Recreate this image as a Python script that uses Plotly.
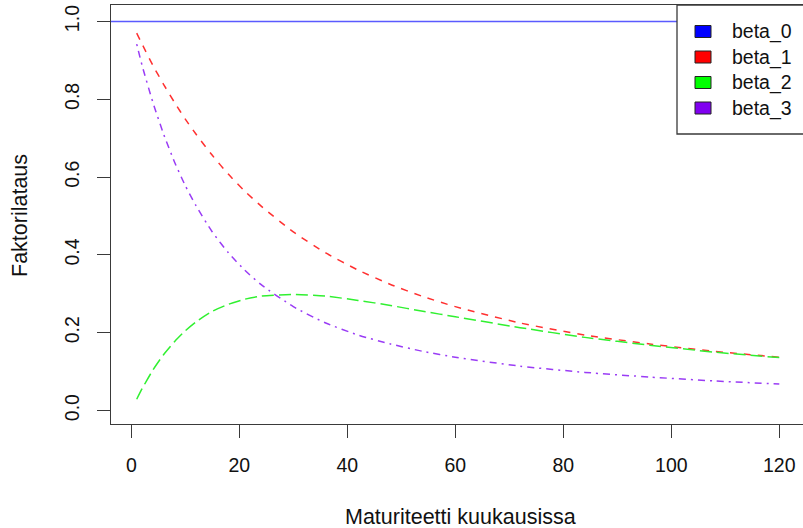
import plotly.graph_objects as go

# Maturities (months) and factor loadings of the Svensson yield-curve model
maturity = [1, 2, 4, 6, 8, 10, 12, 15, 18, 21, 24, 30, 36, 42, 48, 54, 60, 72, 84, 96, 108, 120]
beta_0_level = 1.0
beta_1 = [0.970, 0.942, 0.887, 0.838, 0.792, 0.749, 0.710, 0.656, 0.607, 0.564, 0.526,
          0.459, 0.405, 0.361, 0.324, 0.293, 0.267, 0.225, 0.194, 0.171, 0.152, 0.137]
beta_2 = [0.029, 0.056, 0.104, 0.144, 0.177, 0.205, 0.228, 0.255, 0.273, 0.286, 0.294,
          0.298, 0.294, 0.283, 0.270, 0.255, 0.241, 0.213, 0.188, 0.168, 0.150, 0.136]
beta_3 = [0.942, 0.887, 0.792, 0.710, 0.639, 0.578, 0.526, 0.459, 0.405, 0.361, 0.324,
          0.267, 0.225, 0.194, 0.171, 0.152, 0.137, 0.114, 0.098, 0.086, 0.076, 0.068]

legend_names = ["beta_0", "beta_1", "beta_2", "beta_3"]
colors = ["#0000FF", "#FF0000", "#00FF00", "#8000F0"]
line_colors = ["#5a5aff", "#ff3030", "#30f030", "#9a3cf5"]

x_ticks = [0, 20, 40, 60, 80, 100, 120]
y_ticks = [0.0, 0.2, 0.4, 0.6, 0.8, 1.0]
y_tick_text = ["0.0", "0.2", "0.4", "0.6", "0.8", "1.0"]

W, H = 803, 528
ML, MR, MT, MB = 111, 0, 5, 104
PW, PH = W - ML - MR, H - MT - MB
FONT = "Liberation Sans, Arial, Helvetica, sans-serif"
AX = "#3a3a3a"


def px_x(p):
    return (p - ML) / PW


def px_y(p):
    return (H - MB - p) / PH


fig = go.Figure()

# Constant level loading across the whole plotting range
fig.add_shape(type="line", xref="x domain", yref="y", x0=0, x1=1,
              y0=beta_0_level, y1=beta_0_level,
              line=dict(color=line_colors[0], width=1.6), layer="below")

series = [(beta_1, line_colors[1], "7px,7px"),
          (beta_2, line_colors[2], "12px,5px"),
          (beta_3, line_colors[3], "2px,5px,7px,5px")]
for vals, col, dash in series:
    fig.add_trace(go.Scatter(
        x=maturity, y=vals, mode="lines",
        line=dict(color=col, width=1.5, dash=dash, shape="spline", smoothing=0.6),
        showlegend=False, hoverinfo="skip"))

# Legend box with filled swatches
fig.add_shape(type="rect", xref="paper", yref="paper",
              x0=px_x(677), x1=px_x(812), y0=px_y(134), y1=px_y(MT),
              line=dict(color=AX, width=1.3), fillcolor="white", layer="above")
row_y = [31.5, 57, 82.5, 108]
for name, col, cy in zip(legend_names, colors, row_y):
    fig.add_shape(type="rect", xref="paper", yref="paper",
                  x0=px_x(695), x1=px_x(711), y0=px_y(cy + 6), y1=px_y(cy - 6),
                  line=dict(color="#222222", width=1), fillcolor=col, layer="above")
    fig.add_annotation(xref="paper", yref="paper", x=px_x(730), y=px_y(cy),
                       xanchor="left", yanchor="middle", text=name, showarrow=False,
                       font=dict(family=FONT, size=19.5, color="#111111"))

fig.add_annotation(xref="paper", yref="paper", x=px_x(460), y=px_y(517),
                   xanchor="center", yanchor="middle", text="Maturiteetti kuukausissa",
                   showarrow=False, font=dict(family=FONT, size=21.5, color="#111111"))
fig.add_annotation(xref="paper", yref="paper", x=px_x(20), y=px_y(216),
                   xanchor="center", yanchor="middle", text="Faktorilataus", textangle=-90,
                   showarrow=False, font=dict(family=FONT, size=21.5, color="#111111"))

fig.update_layout(
    width=W, height=H,
    margin=dict(l=ML, r=MR, t=MT, b=MB),
    paper_bgcolor="white", plot_bgcolor="white",
    font=dict(family=FONT, size=19.5, color="#111111"),
    showlegend=False,
)
fig.update_xaxes(range=[-3.76, 124.39], tickvals=x_ticks, ticks="outside", ticklen=13,
                 tickwidth=1.3, tickcolor=AX, showgrid=False, zeroline=False,
                 showline=True, linecolor=AX, linewidth=1.3, mirror=True,
                 ticklabelstandoff=10)
fig.update_yaxes(range=[-0.0347, 1.0424], tickvals=y_ticks, ticktext=y_tick_text,
                 tickangle=-90, ticks="outside", ticklen=13, tickwidth=1.3, tickcolor=AX,
                 showgrid=False, zeroline=False, showline=True, linecolor=AX,
                 linewidth=1.3, mirror=False, ticklabelstandoff=10)

fig.write_html("out.html")
